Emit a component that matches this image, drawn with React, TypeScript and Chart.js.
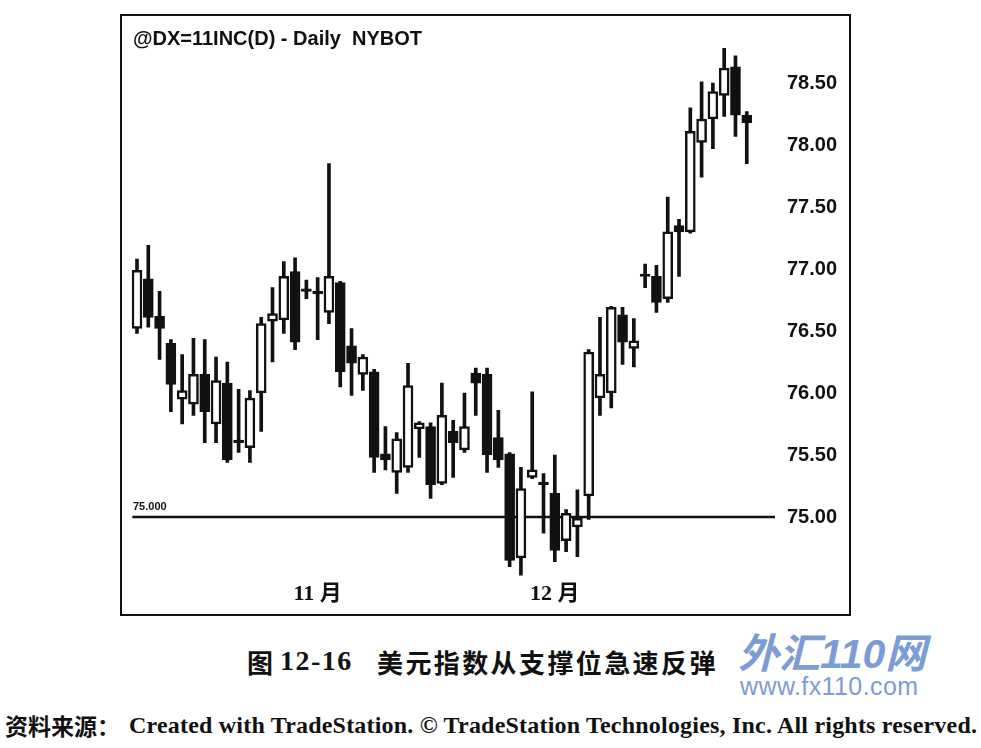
import { useEffect, useRef } from "react";
import { Chart, registerables } from "chart.js";

Chart.register(...registerables);

// daily bars (open / high / low / close)
const opens = [
  76.52, 76.92, 76.62, 76.4, 75.95, 75.91, 76.15, 75.75, 76.08, 75.62,
  75.56, 76.0, 76.58, 76.59, 76.98, 76.84, 76.82, 76.65, 76.89, 76.38,
  76.15, 76.17, 75.51, 75.36, 75.4, 75.71, 75.73, 75.27, 75.69, 75.54,
  76.16, 76.15, 75.64, 75.51, 74.67, 75.32, 75.28, 75.19, 74.81, 74.92,
  75.17, 75.96, 76.0, 76.63, 76.36, 76.96, 76.94, 76.76, 77.35, 77.3,
  78.02, 78.21, 78.4, 78.63, 78.24,
];
const highs = [
  77.08, 77.19, 76.82, 76.43, 76.31, 76.44, 76.43, 76.29, 76.25, 76.03,
  76.02, 76.61, 76.85, 77.06, 77.09, 76.91, 76.93, 77.85, 76.9, 76.52,
  76.31, 76.19, 75.73, 75.68, 76.24, 75.77, 75.76, 76.08, 75.78, 76.0,
  76.2, 76.2, 75.86, 75.52, 75.4, 76.01, 75.35, 75.5, 75.06, 75.22,
  76.35, 76.61, 76.7, 76.69, 76.6, 77.04, 77.03, 77.58, 77.4, 78.3,
  78.51, 78.5, 78.78, 78.72, 78.27,
];
const lows = [
  76.48, 76.53, 76.27, 75.85, 75.75, 75.82, 75.6, 75.6, 75.44, 75.52,
  75.44, 75.69, 76.25, 76.48, 76.35, 76.76, 76.43, 76.56, 76.05, 75.98,
  76.02, 75.36, 75.38, 75.19, 75.36, 75.48, 75.15, 75.26, 75.32, 75.52,
  75.82, 75.36, 75.4, 74.6, 74.53, 75.31, 74.87, 74.64, 74.72, 74.68,
  74.98, 75.82, 75.88, 76.23, 76.21, 76.85, 76.65, 76.73, 76.94, 77.29,
  77.74, 77.97, 78.23, 78.07, 77.85,
];
const closes = [
  76.99, 76.61, 76.52, 76.07, 76.02, 76.15, 75.85, 76.1, 75.46, 75.6,
  75.96, 76.56, 76.64, 76.94, 76.41, 76.82, 76.8, 76.94, 76.17, 76.24,
  76.29, 75.48, 75.46, 75.63, 76.06, 75.76, 75.26, 75.82, 75.6, 75.73,
  76.08, 75.5, 75.46, 74.65, 75.23, 75.38, 75.26, 74.73, 75.03, 74.99,
  76.33, 76.15, 76.69, 76.41, 76.42, 76.94, 76.73, 77.3, 77.3, 78.11,
  78.21, 78.43, 78.62, 78.24, 78.18,
];

// month marks: bar index -> label
const monthIndex = [16, 37];
const monthNames = ["11 月", "12 月"];

const priceTicks = [75, 75.5, 76, 76.5, 77, 77.5, 78, 78.5];
const supportLevel = 75;

const INK = "#111";

const supportLine = {
  id: "supportLine",
  beforeDatasetsDraw(chart: any) {
    const { ctx, chartArea } = chart;
    const y = chart.scales.y.getPixelForValue(supportLevel);
    ctx.save();
    ctx.strokeStyle = INK;
    ctx.lineWidth = 2.5;
    ctx.beginPath();
    ctx.moveTo(chartArea.left + 1, y);
    ctx.lineTo(chartArea.right, y);
    ctx.stroke();
    ctx.restore();
  },
};

const CandleChart = () => {
  const canvasRef = useRef<HTMLCanvasElement>(null);

  useEffect(() => {
    // two spare slots at the right so the support line runs past the last bar
    const labels = Array.from({ length: opens.length + 2 }, (_, i) => String(i));
    const bodies = opens.map((o, i) => [o, closes[i]]);
    const wicks = lows.map((l, i) => [l, highs[i]]);
    const fills = opens.map((o, i) => (closes[i] >= o ? "#fff" : INK));

    const chart = new Chart(canvasRef.current as HTMLCanvasElement, {
      type: "bar",
      data: {
        labels,
        datasets: [
          {
            label: "body",
            data: bodies as any,
            backgroundColor: fills,
            borderColor: INK,
            borderWidth: 2.5,
            borderSkipped: false,
            barThickness: 10,
            grouped: false,
          },
          {
            label: "wick",
            data: wicks as any,
            backgroundColor: INK,
            borderWidth: 0,
            barThickness: 3,
            grouped: false,
          },
        ],
      },
      options: {
        animation: false,
        responsive: true,
        maintainAspectRatio: false,
        layout: { padding: { top: 24, left: 11.35, right: 0, bottom: 0 } },
        plugins: {
          legend: { display: false },
          tooltip: { enabled: false },
          title: { display: false },
        },
        scales: {
          x: {
            grid: { display: false, drawTicks: false },
            border: { display: false },
            ticks: {
              autoSkip: false,
              maxRotation: 0,
              padding: 2,
              color: INK,
              font: { family: "'Liberation Serif', 'Noto Sans CJK SC'", size: 22, weight: "bold" },
              callback: (_v: any, i: number) => {
                const k = monthIndex.indexOf(i);
                return k >= 0 ? monthNames[k] : "";
              },
            },
            afterFit: (s: any) => {
              s.height = 37;
            },
          },
          y: {
            position: "right",
            min: 74.5,
            max: 78.863,
            grid: { display: false, drawTicks: false },
            border: { display: false },
            afterBuildTicks: (s: any) => {
              s.ticks = priceTicks.map((v) => ({ value: v }));
            },
            ticks: {
              padding: 12,
              color: INK,
              font: { family: "'Liberation Sans', Arial", size: 20, weight: "bold" },
              callback: (v: any) => Number(v).toFixed(2),
            },
            afterFit: (s: any) => {
              s.width = 76;
            },
          },
        },
      },
      plugins: [supportLine],
    });

    return () => {
      chart.destroy();
    };
  }, []);

  return <canvas ref={canvasRef}></canvas>;
};

const App = () => {
  const abs = (left: number, top: number, extra: any = {}) => ({
    position: "absolute" as const,
    left,
    top,
    whiteSpace: "nowrap" as const,
    ...extra,
  });

  return (
    <div
      style={{
        position: "fixed",
        left: 0,
        top: 0,
        width: 981,
        height: 748,
        background: "#fff",
        color: INK,
        overflow: "hidden",
      }}
    >
      <div style={abs(120, 14, { width: 731, height: 602 })}>
        <CandleChart />
      </div>
      <div
        style={abs(120, 14, {
          width: 731,
          height: 602,
          border: `2px solid ${INK}`,
          boxSizing: "border-box",
          pointerEvents: "none",
        })}
      />
      <div
        style={abs(133, 27, {
          font: "bold 20px 'Liberation Sans', Arial",
          lineHeight: "22px",
        })}
      >
        @DX=11INC(D) - Daily&nbsp; NYBOT
      </div>
      <div style={abs(133, 500, { font: "bold 11px 'Liberation Sans', Arial", lineHeight: "12px" })}>
        75.000
      </div>

      <div style={abs(247, 647, { font: "bold 26px 'Noto Sans CJK SC'", lineHeight: "30px" })}>图</div>
      <div
        style={abs(280, 646, {
          font: "bold 28px 'Liberation Serif'",
          letterSpacing: 1.5,
          lineHeight: "30px",
        })}
      >
        12-16
      </div>
      <div
        style={abs(377, 647, {
          font: "bold 26px 'Noto Sans CJK SC'",
          letterSpacing: 2.4,
          lineHeight: "30px",
        })}
      >
        美元指数从支撑位急速反弹
      </div>

      <div
        style={abs(738, 631, {
          font: "italic bold 41px 'Liberation Sans', 'Noto Sans CJK SC'",
          color: "#7d9bd6",
          lineHeight: "46px",
        })}
      >
        外汇110网
      </div>
      <div
        style={abs(740, 672, {
          font: "25px 'Liberation Sans', Arial",
          color: "#7d9bd6",
          lineHeight: "28px",
          letterSpacing: 0.4,
        })}
      >
        www.fx110.com
      </div>

      <div style={abs(5, 710, { font: "bold 23px 'Noto Sans CJK SC'", lineHeight: "30px" })}>
        资料来源：
      </div>
      <div
        style={abs(129, 710, {
          font: "bold 24px 'Liberation Serif'",
          letterSpacing: 0.2,
          lineHeight: "30px",
        })}
      >
        Created with TradeStation. © TradeStation Technologies, Inc. All rights reserved.
      </div>
    </div>
  );
};

export default App;
